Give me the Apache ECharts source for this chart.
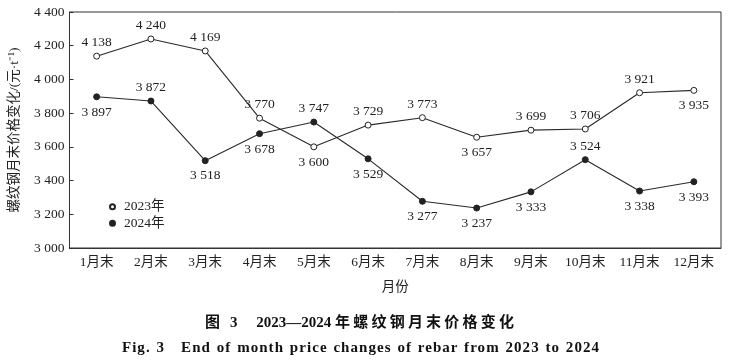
<!DOCTYPE html>
<html><head><meta charset="utf-8">
<script src="https://cdn.jsdelivr.net/npm/echarts@6/dist/echarts.min.js"></script>
<style>
html,body{margin:0;padding:0;background:#fff}
#wrap{position:relative;width:752px;height:364px}
#c{width:752px;height:364px}
.cap{position:absolute;left:0;width:722px;text-align:center;color:#111;font-weight:bold;white-space:nowrap}
#cap1{top:310px;font:bold 15px "Liberation Serif","Noto Sans CJK SC",serif;letter-spacing:3.2px}
#cap1 .n{letter-spacing:0}
#cap2{top:338px;font:bold 15px "Liberation Serif",serif;letter-spacing:1.05px;word-spacing:1px}
</style>
</head><body><div id="wrap"><div id="c"></div>
<div class="cap" id="cap1">图 <span class="n">3　 2023—2024 </span>年螺纹钢月末价格变化</div>
<div class="cap" id="cap2">Fig. 3　End of month price changes of rebar from 2023 to 2024</div>
</div>
<script>
const categories = ['1月末','2月末','3月末','4月末','5月末','6月末','7月末','8月末','9月末','10月末','11月末','12月末'];
const values2023 = [4138,4240,4169,3770,3600,3729,3773,3657,3699,3706,3921,3935];
const values2024 = [3897,3872,3518,3678,3747,3529,3277,3237,3333,3524,3338,3393];
const labelPos2023 = ['top','top','top','top','bottom','top','top','bottom','top','top','top','bottom'];
const labelPos2024 = ['bottom','top','bottom','bottom','top','bottom','bottom','bottom','bottom','top','bottom','bottom'];
const yTicks = {min:3000, max:4400, interval:200};

const serif = '"Liberation Serif", "Noto Sans CJK SC", serif';
const fmt = v => { const s = String(v); return s.length > 3 ? s.slice(0, s.length-3) + ' ' + s.slice(-3) : s; };
const mk = (vals, pos) => vals.map((v,i)=>({value:v, label:{position:pos[i], distance: pos[i]==='top'?3:5}}));

const chart = echarts.init(document.getElementById('c'), null, {renderer:'canvas'});
chart.setOption({
  backgroundColor:'#ffffff',
  animation:false,
  grid:{left:63, right:31, top:12, bottom:116, show:true, borderColor:'#333', borderWidth:1},
  legend:{
    orient:'vertical', left:104, top:195, itemGap:3, itemWidth:5, itemHeight:5,
    textStyle:{fontFamily:serif, fontSize:13.5, color:'#222', padding:[0,0,0,4]},
    data:[{name:'2023年', icon:'circle'},{name:'2024年', icon:'circle'}]
  },
  xAxis:{
    type:'category', data:categories, boundaryGap:true,
    name:'月份', nameLocation:'middle', nameGap:33,
    nameTextStyle:{fontFamily:serif, fontSize:13.5, color:'#222'},
    axisLine:{lineStyle:{color:'#333', width:1}},
    axisTick:{inside:true, alignWithLabel:true, length:5, lineStyle:{color:'#333'}},
    axisLabel:{fontFamily:serif, fontSize:13.5, color:'#222', margin:8}
  },
  yAxis:{
    type:'value', min:yTicks.min, max:yTicks.max, interval:yTicks.interval,
    name:'螺纹钢月末价格变化/(元·t⁻¹)', nameLocation:'middle', nameGap:48, nameRotate:90,
    nameTextStyle:{fontFamily:serif, fontSize:13.5, color:'#222'},
    axisLine:{show:true, lineStyle:{color:'#333', width:1}},
    axisTick:{show:true, inside:true, length:4, lineStyle:{color:'#333'}},
    splitLine:{show:false},
    axisLabel:{fontFamily:serif, fontSize:13.5, color:'#222', margin:5, formatter:fmt}
  },
  series:[
    {name:'2023年', type:'line', data:mk(values2023,labelPos2023), symbol:'circle', symbolSize:6,
     itemStyle:{color:'#fff', borderColor:'#222', borderWidth:1},
     lineStyle:{color:'#2a2a2a', width:1.1},
     label:{show:true, fontFamily:serif, fontSize:13.5, color:'#222', formatter:p=>fmt(p.value)}},
    {name:'2024年', type:'line', data:mk(values2024,labelPos2024), symbol:'circle', symbolSize:6,
     itemStyle:{color:'#222', borderColor:'#222', borderWidth:1},
     lineStyle:{color:'#2a2a2a', width:1.1},
     label:{show:true, fontFamily:serif, fontSize:13.5, color:'#222', formatter:p=>fmt(p.value)}}
  ]
});
</script></body></html>
